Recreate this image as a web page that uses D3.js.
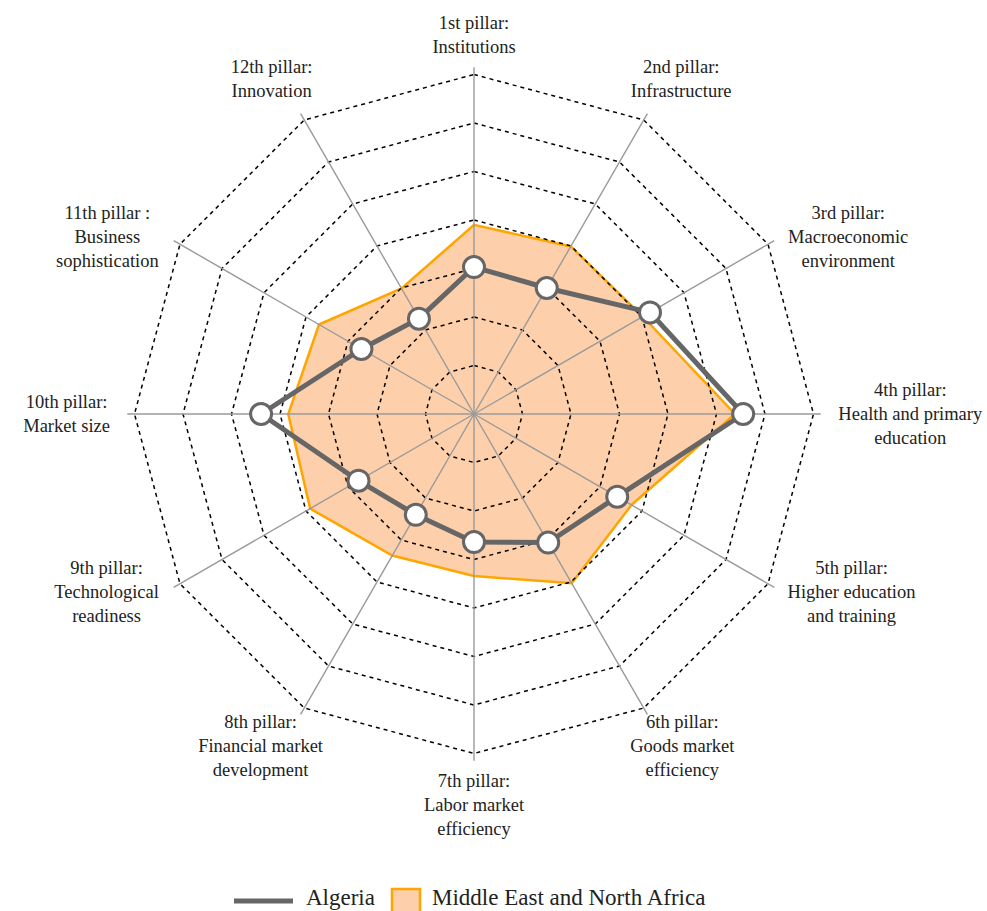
<!DOCTYPE html>
<html>
<head>
<meta charset="utf-8">
<script src="https://cdn.jsdelivr.net/npm/d3@7"></script>
<style>
    body { margin: 0; background: #fff; }
    svg { display: block; }
    .axis-label { font-family: "Liberation Serif", "Times New Roman", serif; font-size: 18.5px; fill: #222; }
    .legend-label { font-family: "Liberation Serif", "Times New Roman", serif; font-size: 23px; fill: #222; }
</style>
</head>
<body>
<div id="chart"></div>
<script>
(function() {
    'use strict';

    // Pillar labels (one array of lines per axis)
    var pillars = [
        ["1st pillar:", "Institutions"],
        ["2nd pillar:", "Infrastructure"],
        ["3rd pillar:", "Macroeconomic", "environment"],
        ["4th pillar:", "Health and primary", "education"],
        ["5th pillar:", "Higher education", "and training"],
        ["6th pillar:", "Goods market", "efficiency"],
        ["7th pillar:", "Labor market", "efficiency"],
        ["8th pillar:", "Financial market", "development"],
        ["9th pillar:", "Technological", "readiness"],
        ["10th pillar:", "Market size"],
        ["11th pillar :", "Business", "sophistication"],
        ["12th pillar:", "Innovation"]
    ];

    // Scores (1-7 scale)
    var algeria = [3.03, 3.00, 4.19, 5.55, 3.41, 3.06, 2.64, 2.40, 2.75, 4.39, 2.68, 2.27];
    var mena = [3.90, 3.99, 4.02, 5.38, 3.75, 4.03, 3.34, 3.37, 3.90, 3.83, 3.69, 2.99];

    var rings = [1, 2, 3, 4, 5, 6, 7];
    var seriesNames = ["Algeria", "Middle East and North Africa"];

    var width = 987, height = 911;
    var cx = 474, cy = 414;
    var maxValue = 7;
    var axisExtent = 7.15;

    var rScale = d3.scaleLinear()
        .domain([0, maxValue])
        .range([0, 339.5]);

    var angle = d3.scaleLinear()
        .domain([0, pillars.length])
        .range([0, 2 * Math.PI]);

    var svg = d3.select("#chart").append("svg")
        .attr("width", width)
        .attr("height", height);

    var g = svg.append("g")
        .attr("transform", "translate(" + cx + "," + cy + ")");

    var radarLine = d3.lineRadial()
        .curve(d3.curveLinearClosed)
        .angle(function(d, i) { return angle(i); })
        .radius(function(d) { return rScale(d); });

    // MENA area
    g.append("path")
        .datum(mena)
        .attr("d", radarLine)
        .attr("fill", "#fdd0ab")
        .attr("stroke", "#ffa500")
        .attr("stroke-width", 2.5)
        .attr("stroke-linejoin", "miter");

    // Dashed rings
    g.selectAll(".ring")
        .data(rings)
        .enter()
        .append("path")
        .attr("class", "ring")
        .attr("d", function(r) {
            return radarLine(pillars.map(function() { return r; }));
        })
        .attr("fill", "none")
        .attr("stroke", "#000")
        .attr("stroke-width", 1.5)
        .attr("stroke-dasharray", "4,4");

    // Axes
    g.selectAll(".axis-line")
        .data(pillars)
        .enter()
        .append("line")
        .attr("class", "axis-line")
        .attr("x1", 0).attr("y1", 0)
        .attr("x2", function(d, i) { return rScale(axisExtent) * Math.sin(angle(i)); })
        .attr("y2", function(d, i) { return -rScale(axisExtent) * Math.cos(angle(i)); })
        .attr("stroke", "#9a9a9a")
        .attr("stroke-width", 1.4);

    // Algeria line + markers
    g.append("path")
        .datum(algeria)
        .attr("d", radarLine)
        .attr("fill", "none")
        .attr("stroke", "#666")
        .attr("stroke-width", 5)
        .attr("stroke-linejoin", "round");

    g.selectAll(".point")
        .data(algeria)
        .enter()
        .append("circle")
        .attr("class", "point")
        .attr("cx", function(d, i) { return rScale(d) * Math.sin(angle(i)); })
        .attr("cy", function(d, i) { return -rScale(d) * Math.cos(angle(i)); })
        .attr("r", 10.5)
        .attr("fill", "#fff")
        .attr("stroke", "#666")
        .attr("stroke-width", 3);

    // Axis labels
    var lineHeight = 24;
    var labels = g.selectAll(".axis-label")
        .data(pillars)
        .enter()
        .append("text")
        .attr("class", "axis-label")
        .attr("text-anchor", "middle");

    labels.each(function(lines, i) {
        var el = d3.select(this);
        lines.forEach(function(t, j) {
            el.append("tspan")
                .attr("x", 0)
                .attr("dy", j === 0 ? 0 : lineHeight)
                .text(t);
        });
        var bb = this.getBBox();
        var a = angle(i);
        var s = Math.sin(a), c = Math.cos(a);
        var h = lines.length * lineHeight;
        var side = Math.abs(c) < 0.8 && Math.abs(s) < 0.99;
        var lx = s * 360 + s * (bb.width / 2 + 4) + (side ? s * 8 : 0);
        var ly = -c * 355 - (Math.abs(c) > 0.8 ? c * h / 2 + 14 * Math.abs(s) : 0);
        var firstBase = ly - h / 2 + lineHeight * 0.76;
        el.attr("transform", "translate(" + lx + "," + firstBase + ")");
    });

    // Legend
    var legend = svg.append("g")
        .attr("transform", "translate(234,901)");

    legend.append("line")
        .attr("x1", 0).attr("x2", 59)
        .attr("y1", 0).attr("y2", 0)
        .attr("stroke", "#666")
        .attr("stroke-width", 5);

    legend.append("text")
        .attr("class", "legend-label")
        .attr("x", 72)
        .attr("y", 4)
        .text(seriesNames[0]);

    legend.append("rect")
        .attr("x", 158)
        .attr("y", -12)
        .attr("width", 28)
        .attr("height", 30)
        .attr("fill", "#fdd0ab")
        .attr("stroke", "#ffa500")
        .attr("stroke-width", 2.5);

    legend.append("text")
        .attr("class", "legend-label")
        .attr("x", 198)
        .attr("y", 4)
        .text(seriesNames[1]);

})();
</script>
</body>
</html>
